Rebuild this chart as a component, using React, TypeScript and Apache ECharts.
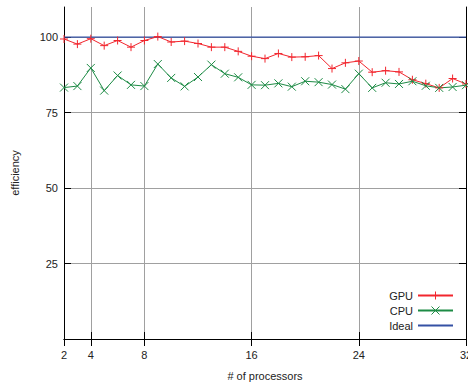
import React, { useEffect, useRef } from "react";
import * as echarts from "echarts";

const processors = [2, 3, 4, 5, 6, 7, 8, 9, 10, 11, 12, 13, 14, 15, 16, 17, 18, 19, 20, 21, 22, 23, 24, 25, 26, 27, 28, 29, 30, 31, 32];
const gpuEfficiency = [99.4, 97.7, 99.5, 97.2, 98.9, 96.7, 98.9, 100.2, 98.4, 98.7, 97.9, 96.7, 96.7, 95.3, 93.7, 92.9, 94.6, 93.4, 93.5, 93.9, 89.6, 91.5, 92.1, 88.4, 88.9, 88.5, 85.9, 84.6, 83.2, 86.3, 84.5];
const cpuEfficiency = [83.3, 83.8, 89.8, 82.3, 87.3, 84.2, 83.8, 91.1, 86.5, 83.7, 86.8, 90.9, 87.9, 86.7, 84.2, 84.1, 84.7, 83.6, 85.4, 85.1, 84.3, 82.8, 87.9, 83.2, 84.9, 84.5, 85.4, 83.9, 83.2, 83.5, 84.1];
const idealEfficiency = processors.map(() => 100);
const xTicks = [2, 4, 8, 16, 24, 32];
const yTicks = [25, 50, 75, 100];

const FONT = "'Liberation Sans', Arial, sans-serif";
const RED = "#f2262e";
const GREEN = "#1d8b45";
const BLUE = "#3551a4";

export default function App() {
  const ref = useRef<HTMLDivElement>(null);
  useEffect(() => {
    document.body.style.margin = "0";
    if (!ref.current) return;
    const chart = echarts.init(ref.current, null, { renderer: "svg" });
    const plusSym = "path://M5,0L5,10M0,5L10,5";
    const crossSym = "path://M0,0L10,10M10,0L0,10";
    const commonAxis = {
      axisLine: { show: true, lineStyle: { color: "#000", width: 1 } },
    };
    chart.setOption({
      animation: false,
      textStyle: { fontFamily: FONT },
      grid: { left: 64, right: 2, top: 7, bottom: 46, containLabel: false, outerBoundsMode: "none" },
      xAxis: [
        {
          type: "value",
          min: 2,
          max: 32,
          position: "bottom",
          ...commonAxis,
          axisTick: { show: true, inside: true, length: 7, customValues: xTicks, lineStyle: { color: "#000" } },
          axisLabel: { customValues: xTicks, color: "#222", fontSize: 11, margin: 10, fontFamily: FONT },
          splitLine: { show: true, lineStyle: { color: "#a0a0a0", width: 1 } },
          name: "# of processors",
          nameLocation: "middle",
          nameGap: 31,
          nameTextStyle: { color: "#222", fontSize: 11, fontFamily: FONT },
        },
        {
          type: "value",
          min: 2,
          max: 32,
          position: "top",
          ...commonAxis,
          axisTick: { show: true, inside: true, length: 7, customValues: xTicks, lineStyle: { color: "#000" } },
          axisLabel: { show: false },
          splitLine: { show: false },
        },
      ],
      yAxis: [
        {
          type: "value",
          min: 0,
          max: 110,
          position: "left",
          ...commonAxis,
          axisTick: { show: true, inside: true, length: 7, customValues: yTicks, lineStyle: { color: "#000" } },
          axisLabel: { customValues: yTicks, color: "#222", fontSize: 11, margin: 6, fontFamily: FONT },
          splitLine: { show: true, lineStyle: { color: "#a0a0a0", width: 1 } },
          name: "efficiency",
          nameLocation: "middle",
          nameRotate: 90,
          nameGap: 44,
          nameTextStyle: { color: "#222", fontSize: 11, fontFamily: FONT },
        },
        {
          type: "value",
          min: 0,
          max: 110,
          position: "right",
          ...commonAxis,
          axisTick: { show: true, inside: true, length: 7, customValues: yTicks, lineStyle: { color: "#000" } },
          axisLabel: { show: false },
          splitLine: { show: false },
        },
      ],
      legend: {
        orient: "vertical",
        align: "right",
        right: 14,
        bottom: 54,
        itemWidth: 35,
        itemHeight: 10,
        itemGap: 4,
        padding: 0,
        itemStyle: { borderWidth: 1 },
        textStyle: { color: "#222", fontSize: 11, fontFamily: FONT },
        data: [
          { name: "GPU", itemStyle: { borderWidth: 1 } },
          { name: "CPU", itemStyle: { borderWidth: 1 } },
          { name: "Ideal", itemStyle: { opacity: 0 } },
        ],
      },
      series: [
        {
          name: "Ideal",
          type: "line",
          data: processors.map((p, i) => [p, idealEfficiency[i]]),
          showSymbol: false,
          symbol: "none",
          lineStyle: { color: BLUE, width: 1.2 },
          itemStyle: { color: BLUE },
          z: 3,
        },
        {
          name: "GPU",
          type: "line",
          data: processors.map((p, i) => [p, gpuEfficiency[i]]),
          symbol: plusSym,
          symbolSize: 8,
          lineStyle: { color: RED, width: 1 },
          itemStyle: { color: RED, borderColor: RED, borderWidth: 1 },
          z: 4,
        },
        {
          name: "CPU",
          type: "line",
          data: processors.map((p, i) => [p, cpuEfficiency[i]]),
          symbol: crossSym,
          symbolSize: 8,
          lineStyle: { color: GREEN, width: 1 },
          itemStyle: { color: GREEN, borderColor: GREEN, borderWidth: 1 },
          z: 4,
        },
      ],
    });
    return () => chart.dispose();
  }, []);
  return (
    <div
      ref={ref}
      style={{ position: "absolute", left: 0, top: 0, width: 468, height: 385 }}
    />
  );
}
